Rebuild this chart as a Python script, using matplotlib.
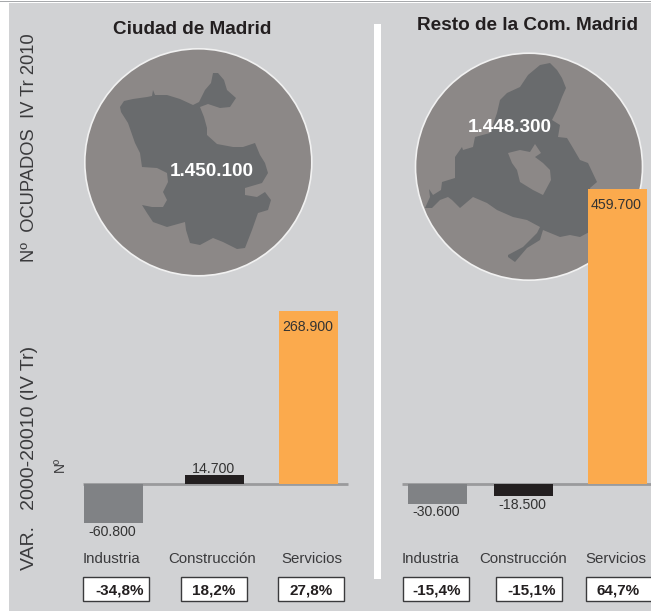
import matplotlib.pyplot as plt
from matplotlib.patches import Circle, Polygon, Rectangle

plt.rcParams['font.family'] = ['Liberation Sans', 'DejaVu Sans']

categories = ['Industria', 'Construcción', 'Servicios']
madrid_values = [-60800, 14700, 268900]
resto_values = [-30600, -18500, 459700]
madrid_labels = ['-60.800', '14.700', '268.900']
resto_labels = ['-30.600', '-18.500', '459.700']
madrid_pct = ['-34,8%', '18,2%', '27,8%']
resto_pct = ['-15,4%', '-15,1%', '64,7%']
madrid_total = '1.450.100'
resto_total = '1.448.300'

# map outlines, in pixels
madrid_map = [(120, 107), (124, 101), (133, 99), (147, 97), (152, 96), (153, 90), (155, 95), (167, 95),
              (180, 99), (193, 105), (199, 102), (205, 90), (211, 83), (213, 73), (218, 73), (224, 80),
              (227, 90), (236, 98), (230, 107), (220, 108), (208, 104), (200, 107), (204, 117), (207, 128),
              (207, 135), (217, 144), (233, 147), (243, 147), (255, 143), (260, 155), (265, 163), (268, 173),
              (262, 183), (245, 188), (245, 195), (257, 197), (265, 192), (271, 200), (268, 210), (258, 213),
              (252, 230), (245, 248), (237, 249), (223, 242), (213, 238), (200, 245), (190, 243), (186, 230),
              (185, 222), (167, 227), (153, 222), (147, 213), (142, 205), (152, 207), (163, 207), (167, 200),
              (163, 192), (168, 182), (167, 173), (157, 168), (142, 167), (140, 153), (135, 143), (128, 123),
              (121, 112)]
resto_map = [(425, 208), (430, 197), (429, 189), (433, 195), (441, 190), (442, 182), (455, 178), (455, 157),
             (462, 147), (463, 150), (473, 147), (475, 137), (490, 133), (497, 113), (500, 100), (507, 93),
             (520, 87), (528, 75), (540, 65), (550, 63), (557, 70), (562, 78), (566, 88), (562, 97),
             (557, 110), (552, 120), (560, 125), (558, 137), (567, 138), (573, 148), (580, 160), (588, 163),
             (597, 182), (590, 188), (593, 200), (593, 230), (580, 237), (570, 235), (560, 237), (543, 230),
             (540, 240), (527, 248), (515, 262), (508, 257), (508, 255), (523, 247), (537, 233), (540, 227),
             (527, 220), (513, 217), (497, 210), (487, 203), (473, 197), (460, 208), (452, 200), (448, 197),
             (440, 200), (432, 208)]
resto_hole = [(508, 153), (520, 150), (530, 152), (535, 144), (541, 153), (535, 157), (543, 163), (550, 170),
              (551, 180), (543, 195), (533, 190), (520, 182), (517, 170), (512, 163)]

W, H = 651, 612
BG = '#d1d2d4'
CIRCLE = '#8c8887'
MAP = '#696b6d'
bar_colors = ['#808285', '#231f20', '#fbaa4d']
TXT = '#3a3a3c'

madrid_x = [113.5, 214.5, 308.5]
resto_x = [437.5, 523.5, 617.5]
PX_PER_UNIT = 0.000642
BASE_Y = 484

fig = plt.figure(figsize=(W / 100, H / 100), dpi=100, facecolor='white')

# background layer in pixel coordinates
bg = fig.add_axes([0, 0, 1, 1])
bg.set_xlim(0, W)
bg.set_ylim(H, 0)
bg.axis('off')
bg.add_patch(Rectangle((0, 0.5), W, 1.6, color='#a7a9ac', lw=0))
bg.add_patch(Rectangle((9, 3), W - 9, H - 4, color=BG, lw=0))
bg.add_patch(Rectangle((374, 24), 7, 555, color='white', lw=0))

bg.add_patch(Circle((198.3, 162.3), 113.5, fc=CIRCLE, ec='#f1f1f1', lw=1.2))
bg.add_patch(Circle((529, 166.7), 113.5, fc=CIRCLE, ec='#f1f1f1', lw=1.2))
bg.add_patch(Polygon(madrid_map, closed=True, fc=MAP, ec='none'))
bg.add_patch(Polygon(resto_map, closed=True, fc=MAP, ec='none'))
bg.add_patch(Polygon(resto_hole, closed=True, fc=CIRCLE, ec='none'))

bg.text(192, 29, 'Ciudad de Madrid', ha='center', va='center', fontsize=13.6, fontweight='bold', color='#231f20')
bg.text(527.5, 26, 'Resto de la Com. Madrid', ha='center', va='center', fontsize=13.7, fontweight='bold', color='#231f20')
bg.text(211.5, 172, madrid_total, ha='center', va='center', fontsize=13.6, fontweight='bold', color='white')
bg.text(510, 127, resto_total, ha='center', va='center', fontsize=13.6, fontweight='bold', color='white')

bg.text(30, 148, 'Nº  OCUPADOS  IV Tr 2010', rotation=90, ha='center', va='center', fontsize=13.25, color=TXT)
bg.text(30, 458, 'VAR.   2000-20010 (IV Tr)', rotation=90, ha='center', va='center', fontsize=14, color=TXT)
bg.text(60, 465, 'Nº', rotation=90, ha='center', va='center', fontsize=10, color=TXT)

# bars: same y scale for both panels
ax = fig.add_axes([0, 0, 1, 1], facecolor='none')
ax.set_xlim(0, W)
ax.set_ylim(-(H - BASE_Y) / PX_PER_UNIT, BASE_Y / PX_PER_UNIT)
ax.axis('off')
ax.plot([83, 348], [0, 0], color='#9a9a9c', lw=2, solid_capstyle='butt', zorder=1)
ax.plot([402, 651], [0, 0], color='#9a9a9c', lw=2, solid_capstyle='butt', zorder=1)
ax.bar(madrid_x, madrid_values, width=59, color=bar_colors, zorder=2)
ax.bar(resto_x, resto_values, width=59, color=bar_colors, zorder=2)


def y_px(px):
    return (BASE_Y - px) / PX_PER_UNIT


madrid_label_y = [532, 469, 327]
resto_label_y = [512, 505, 205]
for xs, labels, ys in [(madrid_x, madrid_labels, madrid_label_y), (resto_x, resto_labels, resto_label_y)]:
    for x, s, yy in zip(xs, labels, ys):
        ax.text(x - 1, y_px(yy), s, ha='center', va='center', fontsize=10.2, color='#333333', zorder=3)

# category names and boxed percentages
madrid_name_x = [111.5, 212.5, 311.5]
resto_name_x = [430.5, 523.5, 615.5]
madrid_box_x = [83, 181, 278]
resto_box_x = [403, 496, 586]
madrid_pct_x = [119.5, 214, 311]
resto_pct_x = [436.3, 531.3, 618]
for names, boxes, pct_x, pcts in [(madrid_name_x, madrid_box_x, madrid_pct_x, madrid_pct),
                                  (resto_name_x, resto_box_x, resto_pct_x, resto_pct)]:
    for i in range(3):
        bg.text(names[i], 559, categories[i], ha='center', va='center', fontsize=10.8, color=TXT)
        box = Rectangle((boxes[i], 577), 66, 24, fc='white', ec='#3a3a3c', lw=1, zorder=4)
        bg.add_patch(box)
        bg.text(pct_x[i], 590.5, pcts[i], ha='center', va='center', fontsize=11, fontweight='bold',
                color='#231f20', zorder=5)

fig.savefig('out.png', dpi=100, facecolor='white')
